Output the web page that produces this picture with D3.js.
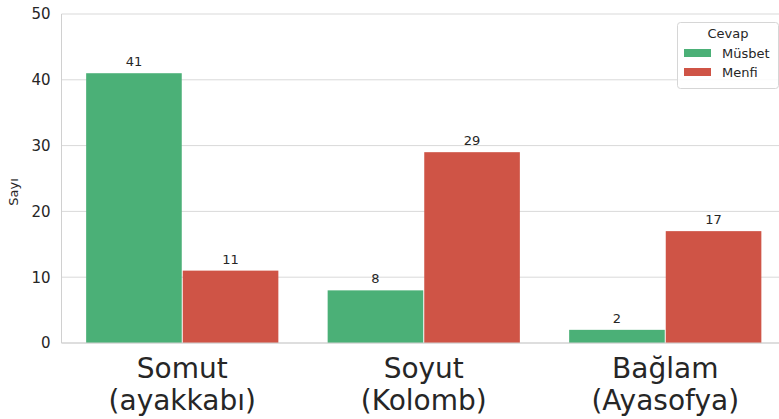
<!DOCTYPE html>
<html><head><meta charset="utf-8">
<script src="https://cdn.jsdelivr.net/npm/d3@7"></script>
<style>body{margin:0;background:#fff;}svg{display:block;font-family:"DejaVu Sans",sans-serif;}</style>
</head><body><svg id="c" width="779" height="419"></svg>
<script>
const categories = [["Somut","(ayakkabı)"],["Soyut","(Kolomb)"],["Bağlam","(Ayasofya)"]];
const seriesNames = ["Müsbet","Menfi"];
const musbet = [41, 8, 2];
const menfi = [11, 29, 17];
const yTicks = [0,10,20,30,40,50];
const colors = ["#4bb077","#cf5446"];

(function(){
const svg = d3.select("#c");
const mL = 61.5, mR = 786, mT = 14, mB = 343;
const x = d3.scaleBand().domain(d3.range(categories.length)).range([mL, mR]).paddingInner(0).paddingOuter(0);
const inner = d3.scaleBand().domain(seriesNames).range([0, x.bandwidth()]).paddingInner(0).paddingOuter(0.25);
const y = d3.scaleLinear().domain([0,50]).range([mB, mT]);

svg.append("g").selectAll("line").data(yTicks).join("line")
  .attr("x1", mL).attr("x2", mR).attr("y1", d=>y(d)).attr("y2", d=>y(d))
  .attr("stroke","#d9d9d9").attr("stroke-width",1);
svg.append("line").attr("x1",mL).attr("x2",mL).attr("y1",mT).attr("y2",mB).attr("stroke","#d0d0d0");

const yAxis = d3.axisLeft(y).tickValues(yTicks).tickSize(0).tickPadding(11);
const ga = svg.append("g").attr("transform",`translate(${mL},0)`).call(yAxis);
ga.select(".domain").remove();
ga.selectAll("text").attr("font-size",15).attr("fill","#262626").attr("font-family","DejaVu Sans");

svg.append("text").attr("transform","translate(18,192) rotate(-90)").attr("text-anchor","middle")
  .attr("font-size",13).attr("fill","#262626").text("Sayı");

const data = [musbet, menfi];
data.forEach((vals, si) => {
  const g = svg.append("g");
  g.selectAll("rect").data(vals).join("rect")
    .attr("x", (d,i)=>x(i)+inner(seriesNames[si]) + 0.5)
    .attr("width", inner.bandwidth() - 1)
    .attr("y", d=>y(d)).attr("height", d=>y(0)-y(d))
    .attr("fill", colors[si]);
  g.selectAll("text").data(vals).join("text")
    .attr("x", (d,i)=>x(i)+inner(seriesNames[si])+inner.bandwidth()/2)
    .attr("y", d=>y(d)-7).attr("text-anchor","middle")
    .attr("font-size",13).attr("fill","#262626").text(d=>d);
});

svg.append("line").attr("x1",mL).attr("x2",mR).attr("y1",mB).attr("y2",mB).attr("stroke","#d0d0d0");

const xl = svg.append("g");
categories.forEach((c,i)=>{
  const t = xl.append("text").attr("text-anchor","middle").attr("font-size",28).attr("fill","#262626");
  t.append("tspan").attr("x", x(i)+x.bandwidth()/2).attr("y",378).text(c[0]);
  t.append("tspan").attr("x", x(i)+x.bandwidth()/2).attr("y",410).text(c[1]);
});

const lg = svg.append("g");
lg.append("rect").attr("x",677.5).attr("y",22.5).attr("width",101).attr("height",66).attr("rx",3)
  .attr("fill","#fff").attr("fill-opacity",0.85).attr("stroke","#d6d6d6");
lg.append("text").attr("x",728).attr("y",38).attr("text-anchor","middle").attr("font-size",13).attr("fill","#262626").text("Cevap");
seriesNames.forEach((n,i)=>{
  lg.append("rect").attr("x",684).attr("y",49+i*19).attr("width",27).attr("height",8).attr("fill",colors[i]);
  lg.append("text").attr("x",722).attr("y",58+i*19).attr("font-size",13).attr("fill","#262626").text(n);
});
})();
</script></body></html>
